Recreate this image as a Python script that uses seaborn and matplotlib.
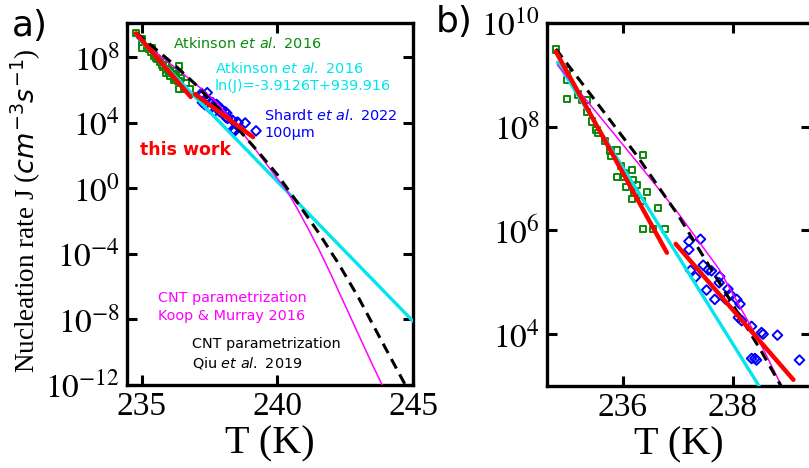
import numpy as np
import pandas as pd
import matplotlib
matplotlib.use("Agg")
import matplotlib.pyplot as plt
import seaborn as sns
from matplotlib.ticker import NullLocator

# ---------------- data (log10 J values) ----------------
atk_T = [234.78, 234.99, 234.99, 234.99, 235.19, 235.25, 235.35, 235.35, 235.44, 235.52,
         235.55, 235.67, 235.76, 235.89, 235.79, 235.96, 236.02, 236.17, 235.90, 236.01,
         236.19, 236.25, 236.05, 236.36, 236.44, 236.21, 236.17, 236.35, 236.64, 236.36,
         236.55, 236.76]
atk_logJ = [9.49, 9.10, 8.90, 8.54, 8.62, 8.52, 8.52, 8.29, 8.10, 7.94,
            7.88, 7.72, 7.54, 7.54, 7.43, 7.24, 7.11, 7.16, 7.03, 7.03,
            6.98, 6.88, 6.83, 7.46, 6.74, 6.72, 6.60, 6.56, 6.44, 6.03,
            6.03, 6.03]

sha_T = [237.41, 237.20, 237.20, 237.46, 237.55, 237.61, 237.23, 237.32, 237.76, 237.75,
         237.52, 237.67, 237.91, 237.95, 237.87, 238.07, 238.13, 238.10, 238.16, 238.34,
         238.52, 238.55, 238.81, 238.34, 238.40, 238.43, 239.21]
sha_logJ = [5.83, 5.79, 5.63, 5.33, 5.24, 5.22, 5.23, 5.10, 5.11, 4.99,
            4.85, 4.67, 4.87, 4.77, 4.67, 4.67, 4.58, 4.32, 4.26, 4.15,
            4.03, 4.00, 3.98, 3.53, 3.53, 3.50, 3.50]

fit_T = [234.81, 245.0]
fit_logJ = [9.24, -8.11]

qiu_T = [234.78, 235.5, 236.25, 237.0, 237.75, 238.5, 239.25, 240.0, 240.75, 241.5,
         242.25, 243.0, 243.75, 244.75]
qiu_logJ = [9.50, 8.50, 7.45, 6.30, 5.00, 3.70, 2.30, 0.82, -0.90, -2.67,
            -4.59, -6.70, -9.03, -12.10]

koop_T = [234.81, 235.5, 236.25, 237.0, 237.75, 238.5, 239.25, 239.9, 240.35, 240.75,
          241.15, 241.55, 242.0, 242.4, 243.0, 243.5, 243.95]
koop_logJ = [9.19, 8.30, 7.33, 6.34, 5.25, 3.82, 2.23, 0.80, -0.15, -1.30,
             -2.52, -3.80, -5.35, -6.80, -8.96, -10.75, -12.30]

work1_T = [234.78, 236.80]
work1_logJ = [9.45, 5.57]
work2_T = [236.96, 239.10]
work2_logJ = [5.74, 3.12]

a_xticks = [235, 240, 245]
a_yexp = [8, 4, 0, -4, -8, -12]
b_xticks = [236, 238]
b_yexp = [10, 8, 6, 4]

# ---------------- style ----------------
sns.set_style("ticks")
plt.rcParams["font.family"] = ["DejaVu Sans"]
plt.rcParams["mathtext.fontset"] = "stix"
for k in ("text.color", "axes.labelcolor", "axes.edgecolor", "xtick.color", "ytick.color"):
    plt.rcParams[k] = "black"

GREEN = "#0a8a0a"
BLUE = "#0000ff"
CYAN = "#00e5ee"
MAGENTA = "#ff00ff"
RED = "#ff0000"

fig = plt.figure(figsize=(8.09, 4.68), dpi=100)
W, H = 809.0, 468.0
ax1 = fig.add_axes([127 / W, 1 - 385 / H, 286 / W, 362 / H])
ax2 = fig.add_axes([547 / W, 1 - 386 / H, 264 / W, 363 / H])


def df(T, L):
    return pd.DataFrame({"T": T, "J": 10.0 ** np.asarray(L)})


for ax in (ax1, ax2):
    ax.set_yscale("log")
    sns.lineplot(data=df(fit_T, fit_logJ), x="T", y="J", ax=ax, color=CYAN, lw=2.4,
                 estimator=None, sort=False, zorder=3)
    sns.lineplot(data=df(koop_T, koop_logJ), x="T", y="J", ax=ax, color=MAGENTA, lw=1.1,
                 estimator=None, sort=False, zorder=4)
    sns.lineplot(data=df(qiu_T, qiu_logJ), x="T", y="J", ax=ax, color="black", lw=2.2,
                 linestyle=(0, (3.5, 2.2)), estimator=None, sort=False, zorder=4)
    sns.scatterplot(data=df(atk_T, atk_logJ), x="T", y="J", ax=ax, marker="s", s=20,
                    facecolor="none", edgecolor=GREEN, linewidth=1.4, zorder=2)
    sns.scatterplot(data=df(sha_T, sha_logJ), x="T", y="J", ax=ax, marker="D", s=24,
                    facecolor="none", edgecolor=BLUE, linewidth=1.4, zorder=2)
    for tt, ll in ((work1_T, work1_logJ), (work2_T, work2_logJ)):
        sns.lineplot(data=df(tt, ll), x="T", y="J", ax=ax, color=RED, lw=3.2,
                     estimator=None, sort=False, zorder=5)
    for s in ax.spines.values():
        s.set_linewidth(2.4)
        s.set_visible(True)
        s.set_color("black")
    ax.tick_params(direction="in", length=7, width=2.2, top=True, right=True,
                   labelsize=24, pad=5, colors="black")
    ax.yaxis.set_minor_locator(NullLocator())
    ax.set_xlabel("T (K)", fontsize=29, fontfamily="Liberation Serif", labelpad=2)
    ax.set_ylabel("")

ax1.set_xlim(234.45, 244.97)
ax1.set_ylim(1e-12, 1.2e10)
ax1.set_xticks(a_xticks)
ax1.set_xticklabels([str(v) for v in a_xticks], fontfamily="Liberation Serif")
ax1.set_yticks([10.0 ** e for e in a_yexp])
ax1.set_yticklabels([r"$10^{%d}$" % e for e in a_yexp], math_fontfamily="stix")
ax1.yaxis.set_minor_locator(NullLocator())

ax2.set_xlim(234.62, 239.42)
ax2.set_ylim(1e3, 1e10)
ax2.set_xticks(b_xticks)
ax2.set_xticklabels([str(v) for v in b_xticks], fontfamily="Liberation Serif")
ax2.set_yticks([10.0 ** e for e in b_yexp])
ax2.set_yticklabels([r"$10^{%d}$" % e for e in b_yexp], math_fontfamily="stix")
ax2.yaxis.set_minor_locator(NullLocator())

ax1.set_ylabel(r"Nucleation rate J ($cm^{-3}s^{-1}$)", fontsize=19.5,
               fontfamily="Liberation Serif", math_fontfamily="dejavusans")
ax1.yaxis.set_label_coords(-(127 - 43) / 286, (385 - 211) / 362)


def ftext(x, y, s, **kw):
    fig.text(x / W, 1 - y / H, s, math_fontfamily="dejavusans", **kw)


fs = 10.4
ftext(173, 43, r"Atkinson $\it{et\ al.}$ 2016", color=GREEN, fontsize=fs, va="center")
ftext(215, 77, "Atkinson $\\it{et\\ al.}$ 2016\nln(J)=-3.9126T+939.916", color=CYAN,
      fontsize=fs, va="center", linespacing=1.35)
ftext(264, 124, "Shardt $\\it{et\\ al.}$ 2022\n100µm", color=BLUE, fontsize=fs,
      va="center", linespacing=1.35)
ftext(140, 150, "this work", color=RED, fontsize=12.5, fontweight="bold", va="center")
ftext(158, 307, "CNT parametrization\nKoop & Murray 2016", color=MAGENTA, fontsize=fs,
      va="center", linespacing=1.35)
ftext(192, 354, "CNT parametrization\nQiu $\\it{et\\ al.}$ 2019", color="black", fontsize=fs,
      va="center", linespacing=1.35)

fig.text(12 / W, 1 - 26 / H, "a)", fontsize=26, va="center", ha="left")
fig.text(436 / W, 1 - 22 / H, "b)", fontsize=26, va="center", ha="left")

fig.savefig("out.png", dpi=100)
